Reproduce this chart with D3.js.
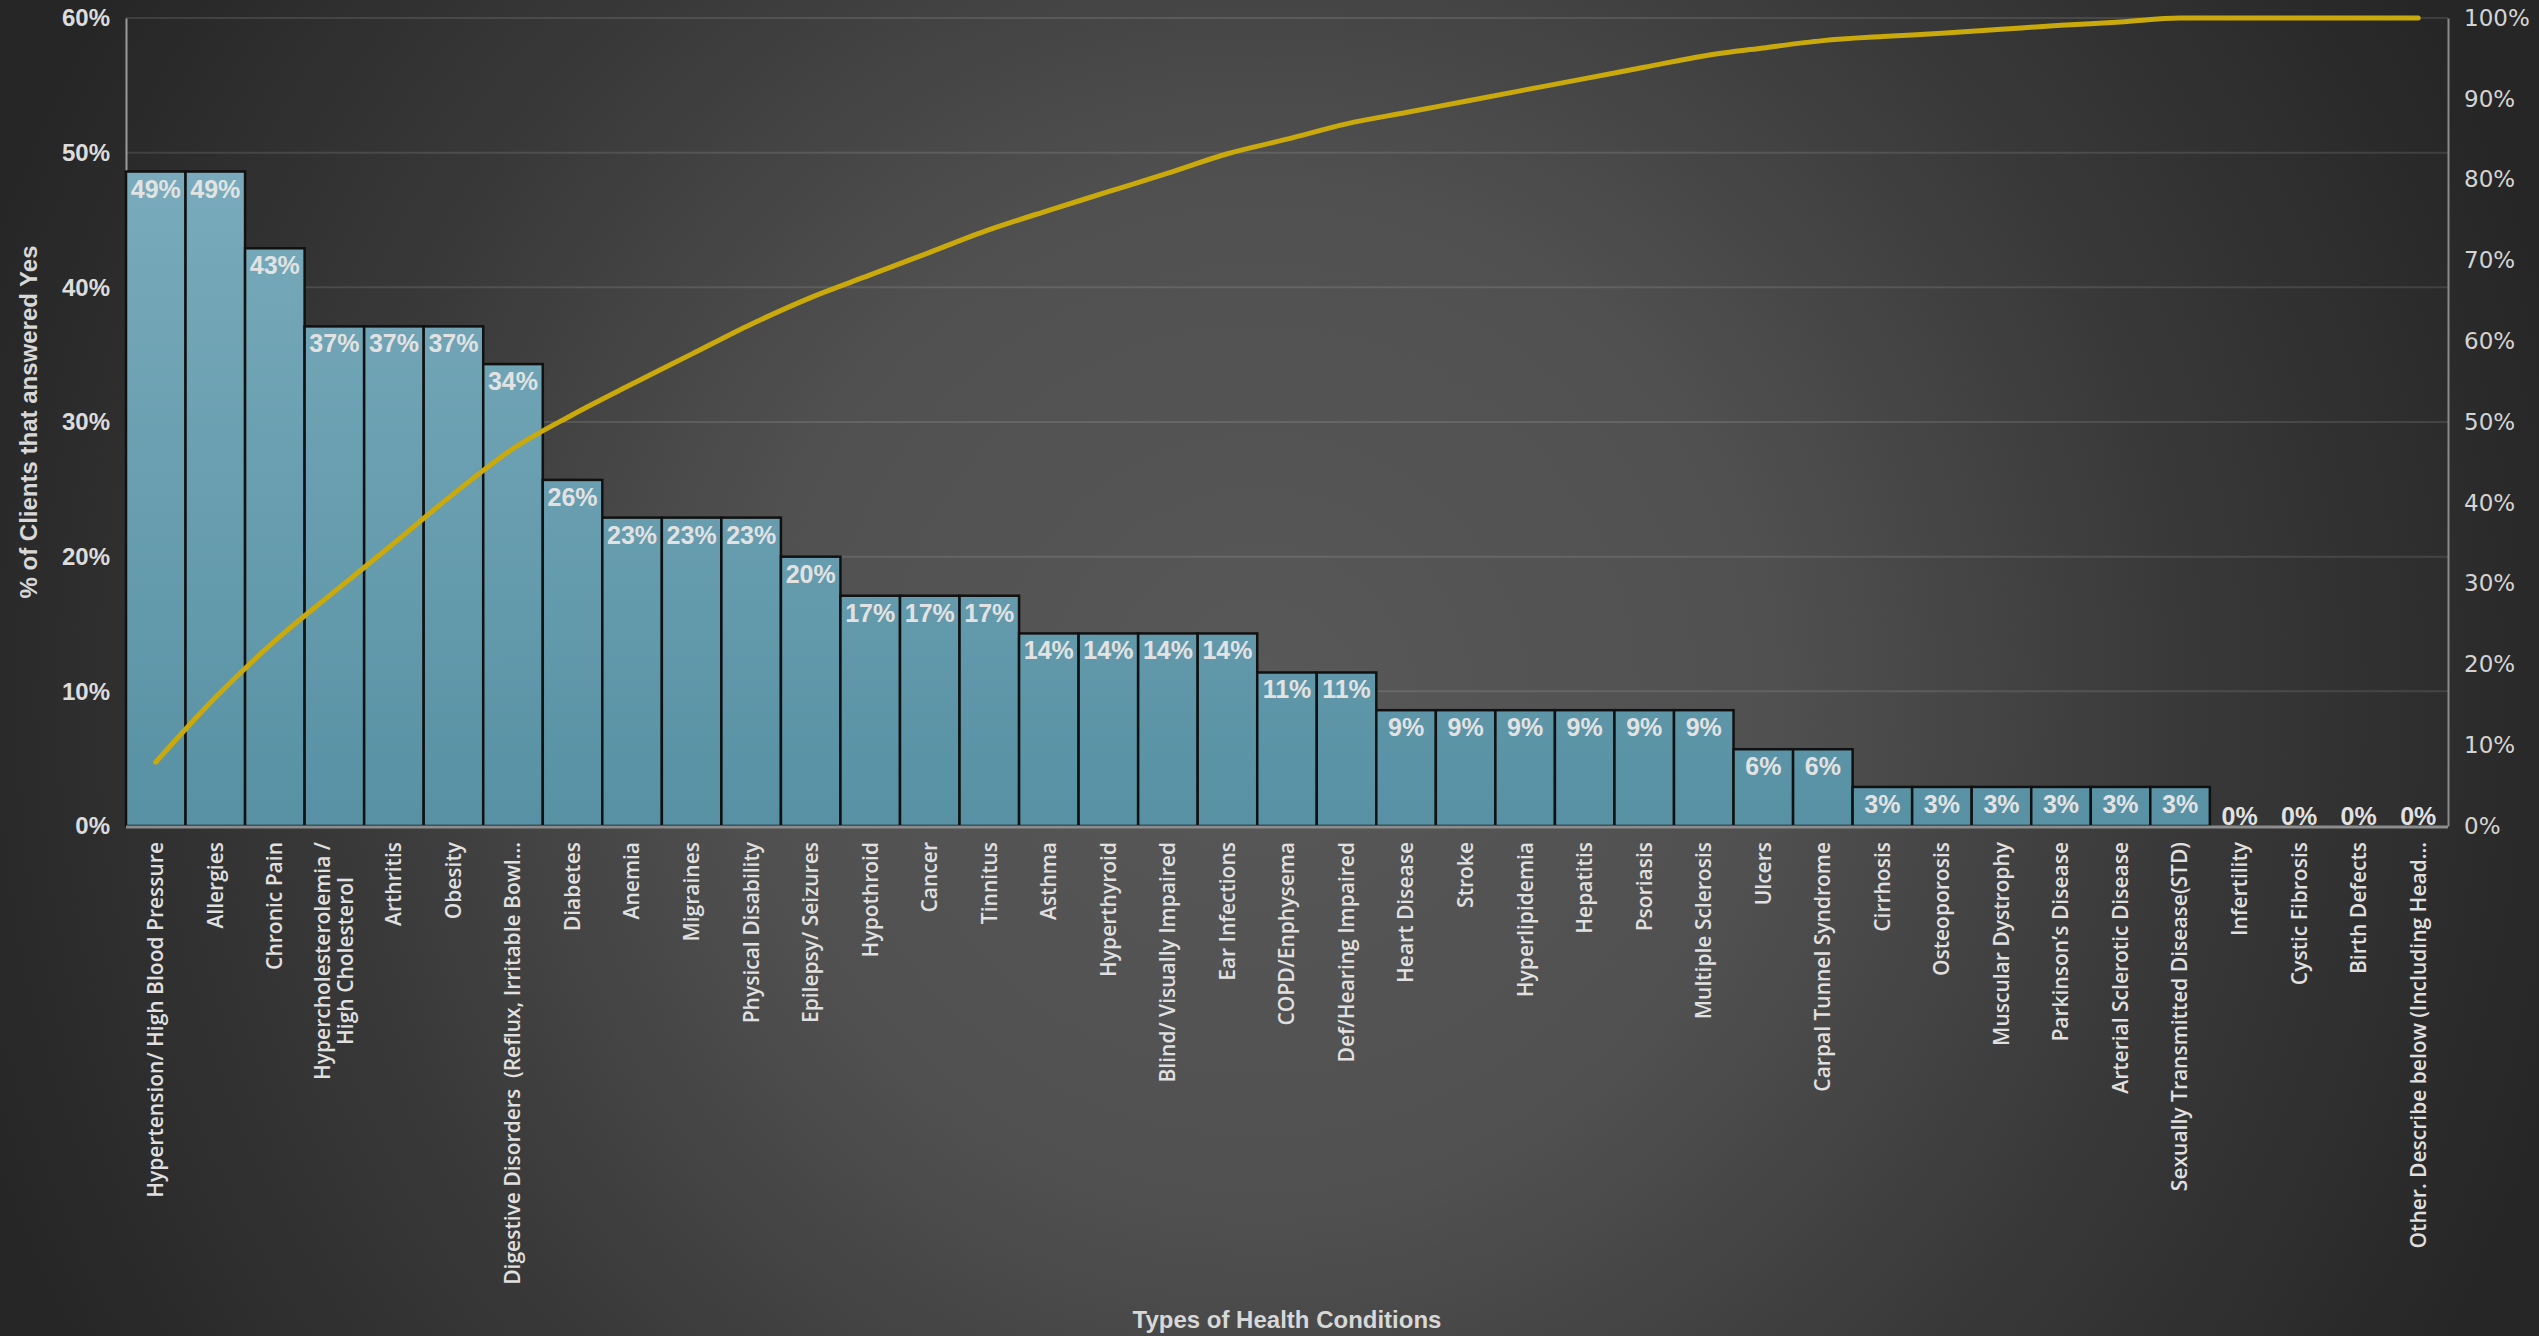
<!DOCTYPE html>
<html>
<head>
<meta charset="utf-8">
<script src="https://cdn.jsdelivr.net/npm/d3@7"></script>
<style>
    html, body { margin: 0; padding: 0; background: #262626; }
    svg { display: block; }
</style>
</head>
<body>
<svg id="chart"></svg>
<script>
// categories in pareto order
const categories = [
    "Hypertension/ High Blood Pressure", "Allergies", "Chronic Pain",
    "Hypercholesterolemia /\nHigh Cholesterol", "Arthritis", "Obesity",
    "Digestive Disorders  (Reflux, Irritable Bowl...", "Diabetes", "Anemia", "Migraines",
    "Physical Disability", "Epilepsy/ Seizures", "Hypothroid", "Cancer", "Tinnitus",
    "Asthma", "Hyperthyroid", "Blind/ Visually Impaired", "Ear Infections",
    "COPD/Enphysema", "Def/Hearing Impaired", "Heart Disease", "Stroke",
    "Hyperlipidemia", "Hepatitis", "Psoriasis", "Multiple Sclerosis", "Ulcers",
    "Carpal Tunnel Syndrome", "Cirrhosis", "Osteoporosis", "Muscular Dystrophy",
    "Parkinson\u2019s Disease", "Arterial Sclerotic Disease", "Sexually Transmitted Disease(STD)",
    "Infertility", "Cystic Fibrosis", "Birth Defects", "Other. Describe below (Including Head..."
];
// % of clients that answered yes
const percentYes = [
    48.6, 48.6, 42.9, 37.1, 37.1, 37.1, 34.3, 25.7, 22.9, 22.9,
    22.9, 20.0, 17.1, 17.1, 17.1, 14.3, 14.3, 14.3, 14.3, 11.4,
    11.4, 8.6, 8.6, 8.6, 8.6, 8.6, 8.6, 5.7, 5.7, 2.9,
    2.9, 2.9, 2.9, 2.9, 2.9, 0, 0, 0, 0
];
// cumulative % (right axis)
const cumulative = [
    7.9, 15.9, 22.9, 29.0, 35.0, 41.1, 46.7, 50.9, 54.7, 58.4,
    62.1, 65.4, 68.2, 71.0, 73.8, 76.2, 78.5, 80.8, 83.2, 85.0,
    86.9, 88.3, 89.7, 91.1, 92.5, 93.9, 95.3, 96.3, 97.2, 97.7,
    98.1, 98.6, 99.1, 99.5, 100, 100, 100, 100, 100
];
const leftTicks = [0, 10, 20, 30, 40, 50, 60];
const rightTicks = [0, 10, 20, 30, 40, 50, 60, 70, 80, 90, 100];

const width = 2539, height = 1336;
const margin = {top: 18, right: 91, bottom: 510, left: 126};
const plotBottom = height - margin.bottom;

const svg = d3.select("#chart").attr("width", width).attr("height", height);
const defs = svg.append("defs");

//Background gradient
const bg = defs.append("radialGradient").attr("id", "bg")
    .attr("gradientUnits", "userSpaceOnUse")
    .attr("cx", 1260).attr("cy", 700).attr("r", 1350);
bg.append("stop").attr("offset", 0).attr("stop-color", "#585858");
bg.append("stop").attr("offset", 0.38).attr("stop-color", "#505050");
bg.append("stop").attr("offset", 0.68).attr("stop-color", "#393939");
bg.append("stop").attr("offset", 1).attr("stop-color", "#262626");

//Bar gradient over the plot height
const barGrad = defs.append("linearGradient").attr("id", "barGrad")
    .attr("gradientUnits", "userSpaceOnUse")
    .attr("x1", 0).attr("x2", 0).attr("y1", margin.top).attr("y2", plotBottom);
barGrad.append("stop").attr("offset", 0).attr("stop-color", "#80b1c1");
barGrad.append("stop").attr("offset", 1).attr("stop-color", "#5891a4");

svg.append("rect").attr("width", width).attr("height", height).attr("fill", "url(#bg)");

const x = d3.scaleBand().domain(categories).range([margin.left, width - margin.right]).padding(0);
const yL = d3.scaleLinear().domain([0, 60]).range([plotBottom, margin.top]);
const yR = d3.scaleLinear().domain([0, 100]).range([plotBottom, margin.top]);

//Gridlines
svg.append("g").selectAll("line")
    .data(leftTicks.filter(d => d > 0))
    .join("line")
    .attr("x1", margin.left).attr("x2", width - margin.right)
    .attr("y1", d => yL(d)).attr("y2", d => yL(d))
    .attr("stroke", "rgba(255,255,255,0.11)")
    .attr("stroke-width", 2);

//Left axis
const axisL = svg.append("g")
    .attr("transform", `translate(${margin.left},0)`)
    .call(d3.axisLeft(yL).tickValues(leftTicks).tickFormat(d => d + "%").tickSize(0).tickPadding(16));
axisL.select(".domain").attr("stroke", "#9a9a9a").attr("stroke-width", 2);
axisL.selectAll("text")
    .attr("fill", "#dcdcdc")
    .style("font", "bold 24px 'Liberation Sans', Arial, sans-serif");

//Right axis
const axisR = svg.append("g")
    .attr("transform", `translate(${width - margin.right},0)`)
    .call(d3.axisRight(yR).tickValues(rightTicks).tickFormat(d => d + "%").tickSize(0).tickPadding(16));
axisR.select(".domain").attr("stroke", "#8a8a8a").attr("stroke-width", 2);
axisR.selectAll("text")
    .attr("fill", "#d4d4d4")
    .style("font", "23px 'DejaVu Sans', Verdana, sans-serif");

//Bars
svg.append("g").selectAll("rect")
    .data(percentYes)
    .join("rect")
    .attr("x", (d, i) => x(categories[i]))
    .attr("y", d => yL(d))
    .attr("width", x.bandwidth())
    .attr("height", d => plotBottom - yL(d))
    .attr("fill", "url(#barGrad)")
    .attr("stroke", "#111")
    .attr("stroke-width", d => d > 0 ? 2.5 : 0);

//Baseline
svg.append("line")
    .attr("x1", margin.left).attr("x2", width - margin.right)
    .attr("y1", plotBottom + 1).attr("y2", plotBottom + 1)
    .attr("stroke", "#8c8c8c").attr("stroke-width", 3);

//Data labels
svg.append("g").selectAll("text")
    .data(percentYes)
    .join("text")
    .attr("x", (d, i) => x(categories[i]) + x.bandwidth() / 2)
    .attr("y", d => d > 0 ? yL(d) + 26 : plotBottom - 1)
    .attr("text-anchor", "middle")
    .attr("fill", "#e2e2e2")
    .style("font", "bold 25px 'Liberation Sans', Arial, sans-serif")
    .text(d => Math.round(d) + "%");

//Cumulative line
const line = d3.line()
    .x((d, i) => x(categories[i]) + x.bandwidth() / 2)
    .y(d => yR(d))
    .curve(d3.curveMonotoneX);
svg.append("path")
    .datum(cumulative)
    .attr("d", line)
    .attr("fill", "none")
    .attr("stroke", "#c9a90c")
    .attr("stroke-width", 5)
    .attr("stroke-linecap", "round");

//Category labels (rotated)
const labelTop = plotBottom + 16;
const catG = svg.append("g").selectAll("g")
    .data(categories)
    .join("g")
    .attr("transform", d => `translate(${x(d) + x.bandwidth() / 2},${labelTop}) rotate(-90)`);
catG.each(function (d) {
    const g = d3.select(this);
    const lines = d.split("\n");
    const lh = 23;
    const t = g.append("text")
        .attr("fill", "#e0e0e0")
        .style("white-space", "pre")
        .style("font", "600 21px 'Open Sans', sans-serif");
    if (lines.length === 1) {
        t.attr("text-anchor", "end").attr("dy", "0.35em").text(d);
    } else {
        //multi-line label: centered lines, longest line starts at the axis
        lines.forEach((s, i) => {
            t.append("tspan").attr("x", 0)
                .attr("y", (i - (lines.length - 1) / 2) * lh)
                .attr("dy", "0.35em").text(s);
        });
        const maxLen = d3.max(t.selectAll("tspan").nodes(), n => n.getComputedTextLength());
        t.attr("text-anchor", "middle").attr("transform", `translate(${-maxLen / 2},0)`);
    }
});

//Axis titles
svg.append("text")
    .attr("transform", `translate(37,${(margin.top + plotBottom) / 2}) rotate(-90)`)
    .attr("text-anchor", "middle")
    .attr("fill", "#d8d8d8")
    .style("font", "bold 24px 'Liberation Sans', Arial, sans-serif")
    .text("% of Clients that answered Yes");

svg.append("text")
    .attr("x", (margin.left + width - margin.right) / 2)
    .attr("y", 1328)
    .attr("text-anchor", "middle")
    .attr("fill", "#d8d8d8")
    .style("font", "bold 24px 'Liberation Sans', Arial, sans-serif")
    .text("Types of Health Conditions");
</script>
</body>
</html>
